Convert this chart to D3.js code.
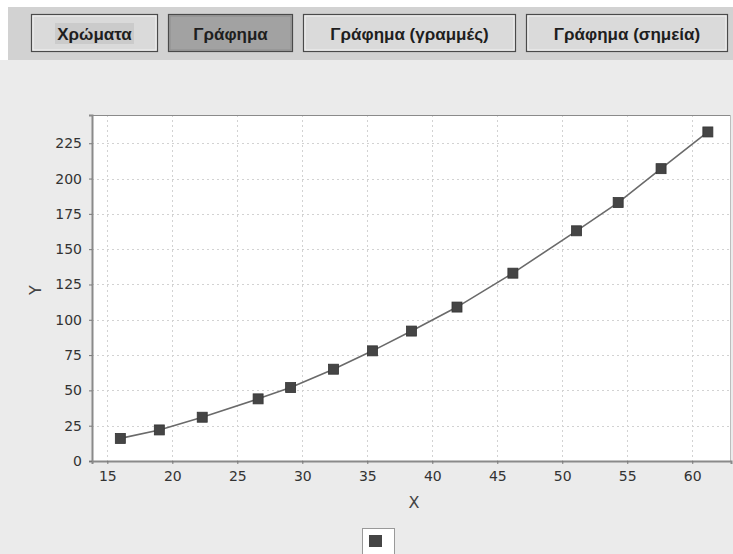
<!DOCTYPE html>
<html>
<head>
<meta charset="utf-8">
<script src="https://cdn.jsdelivr.net/npm/d3@7"></script>
<style>
  html, body { margin: 0; padding: 0; background: #ececec; }
  svg { display: block; }
</style>
</head>
<body>
<svg id="chart" width="733" height="554"></svg>
<script>
// Toolbar captions
const buttonLabels = ["Χρώματα", "Γράφημα", "Γράφημα (γραμμές)", "Γράφημα (σημεία)"];
const activeButton = 1;

// Measured points
const xValues = [16.0, 19.0, 22.3, 26.6, 29.1, 32.4, 35.4, 38.4, 41.9, 46.2, 51.1, 54.3, 57.6, 61.2];
const yValues = [16, 22, 31, 44, 52, 65, 78, 92, 109, 133, 163, 183, 207, 233];

// Axis ticks
const xTicks = [15, 20, 25, 30, 35, 40, 45, 50, 55, 60];
const yTicks = [0, 25, 50, 75, 100, 125, 150, 175, 200, 225];
const xTitle = "X";
const yTitle = "Y";

const uiFont = "'Liberation Sans', Arial, sans-serif";
const chartFont = "'DejaVu Sans', sans-serif";

const svg = d3.select("#chart");
const W = 733, H = 554;

// Window background and toolbar band
svg.append("rect").attr("x", 0).attr("y", 0).attr("width", W).attr("height", H).attr("fill", "#ebebeb");
svg.append("rect").attr("x", 0).attr("y", 0).attr("width", W).attr("height", 7).attr("fill", "#ffffff");
svg.append("rect").attr("x", 0).attr("y", 0).attr("width", 8).attr("height", 60).attr("fill", "#ffffff");
svg.append("rect").attr("x", 8).attr("y", 7).attr("width", W - 8).attr("height", 53).attr("fill", "#d2d2d2");

const buttonBoxes = [[31, 158], [168, 293], [303, 516], [526, 728]];
const bg = svg.append("g");
buttonLabels.forEach((label, i) => {
  const [x0, x1] = buttonBoxes[i];
  const active = i === activeButton;
  bg.append("rect")
    .attr("x", x0 + 0.5).attr("y", 14.5)
    .attr("width", x1 - x0 - 1).attr("height", 37)
    .attr("fill", active ? "#a2a2a2" : "#dadada")
    .attr("stroke", "#4a4a4a").attr("stroke-width", 1.2);
  bg.append("rect")
    .attr("x", x0 + 2).attr("y", 16)
    .attr("width", x1 - x0 - 4).attr("height", 34)
    .attr("fill", "none")
    .attr("stroke", active ? "#8e8e8e" : "#f2f2f2").attr("stroke-width", 1);
  if (i === 0) {
    bg.append("rect")
      .attr("x", 55).attr("y", 23).attr("width", 79).attr("height", 21)
      .attr("fill", "#cbcbcb");
  }
  bg.append("text")
    .attr("x", (x0 + x1) / 2).attr("y", 40)
    .attr("text-anchor", "middle")
    .style("font-family", uiFont)
    .attr("font-size", 17).attr("font-weight", "bold")
    .attr("fill", "#1e1e1e")
    .text(label);
});

// Plot area
const plot = { left: 92, top: 115, right: 731, bottom: 461 };
const x = d3.scaleLinear().domain([13.82, 62.98]).range([plot.left, plot.right]);
const y = d3.scaleLinear().domain([0, 245]).range([plot.bottom, plot.top]);

svg.append("rect")
  .attr("x", plot.left).attr("y", plot.top)
  .attr("width", plot.right - plot.left).attr("height", plot.bottom - plot.top)
  .attr("fill", "#ffffff");

// Dotted grid
const grid = svg.append("g").attr("stroke", "#d2d2d2").attr("stroke-width", 1).attr("stroke-dasharray", "2,3");
grid.selectAll("line.v").data(xTicks).join("line")
  .attr("x1", d => Math.round(x(d)) + 0.5).attr("x2", d => Math.round(x(d)) + 0.5)
  .attr("y1", plot.top).attr("y2", plot.bottom);
grid.selectAll("line.h").data(yTicks.filter(d => d > 0)).join("line")
  .attr("y1", d => Math.round(y(d)) + 0.5).attr("y2", d => Math.round(y(d)) + 0.5)
  .attr("x1", plot.left).attr("x2", plot.right);

// Frame
svg.append("line").attr("x1", plot.left).attr("x2", plot.right)
  .attr("y1", plot.top + 0.5).attr("y2", plot.top + 0.5).attr("stroke", "#8a8a8a");
svg.append("line").attr("x1", plot.right - 0.5).attr("x2", plot.right - 0.5)
  .attr("y1", plot.top).attr("y2", plot.bottom).attr("stroke", "#bdbdbd");

// Axes
const xAxis = svg.append("g")
  .attr("transform", `translate(0,${plot.bottom})`)
  .call(d3.axisBottom(x).tickValues(xTicks).tickSize(3).tickPadding(7).tickFormat(d3.format("d")));
const yAxis = svg.append("g")
  .attr("transform", `translate(${plot.left},0)`)
  .call(d3.axisLeft(y).tickValues(yTicks).tickSize(3).tickPadding(7).tickFormat(d3.format("d")));
[xAxis, yAxis].forEach(a => {
  a.attr("font-family", null).attr("font-size", null);
  a.select(".domain").attr("stroke", "#8a8a8a").attr("stroke-width", 2);
  a.selectAll(".tick line").attr("stroke", "#777");
  a.selectAll(".tick text").attr("fill", "#333")
    .style("font-family", chartFont).style("font-size", "14px");
});

// Axis titles
svg.append("text").attr("x", 414).attr("y", 508)
  .attr("text-anchor", "middle").attr("fill", "#444")
  .style("font-family", chartFont).style("font-size", "16px").text(xTitle);
svg.append("text")
  .attr("transform", `translate(41,${(plot.top + plot.bottom) / 2 + 2}) rotate(-90)`)
  .attr("text-anchor", "middle").attr("fill", "#444")
  .style("font-family", chartFont).style("font-size", "16px").text(yTitle);

// Series line and markers
const pts = xValues.map((v, i) => [v, yValues[i]]);
svg.append("path")
  .datum(pts)
  .attr("fill", "none").attr("stroke", "#6a6a6a").attr("stroke-width", 1.6)
  .attr("d", d3.line().x(d => x(d[0])).y(d => y(d[1])));
svg.append("g").selectAll("rect").data(pts).join("rect")
  .attr("x", d => x(d[0]) - 5).attr("y", d => y(d[1]) - 5)
  .attr("width", 10).attr("height", 10)
  .attr("fill", "#454545").attr("stroke", "#333").attr("stroke-width", 0.8);

// Legend
svg.append("rect").attr("x", 362.5).attr("y", 528.5).attr("width", 32).attr("height", 26)
  .attr("fill", "#ffffff").attr("stroke", "#999");
svg.append("rect").attr("x", 369).attr("y", 535).attr("width", 13).attr("height", 12)
  .attr("fill", "#454545");
</script>
</body>
</html>
